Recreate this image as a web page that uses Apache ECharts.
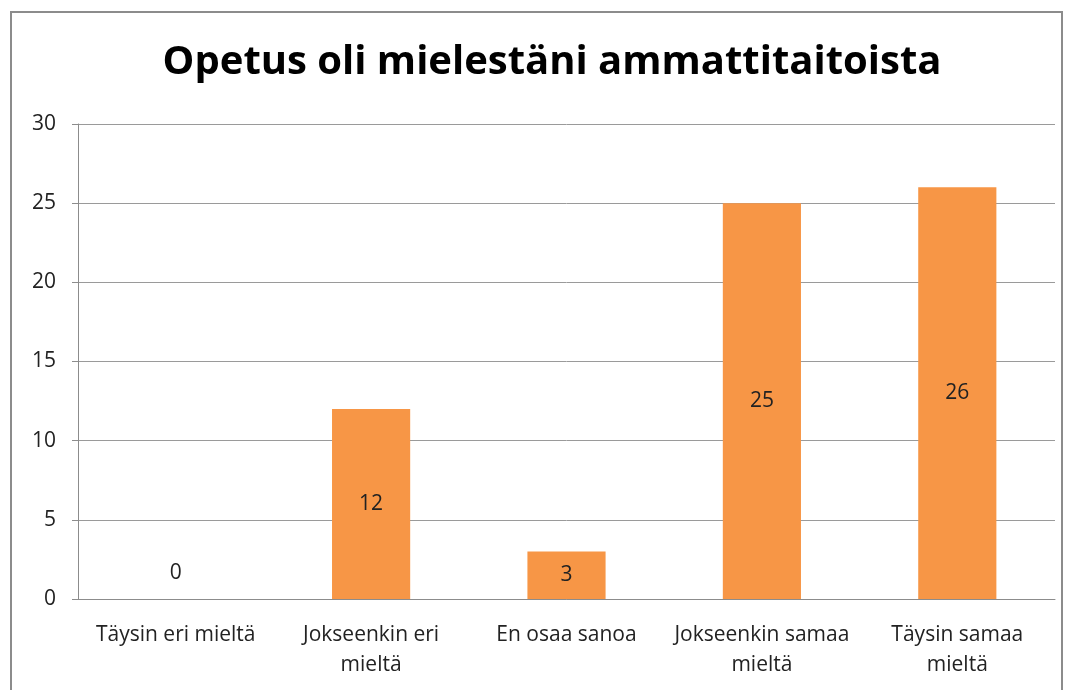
<!DOCTYPE html>
<html>
<head>
<meta charset="utf-8">
<script src="https://cdn.jsdelivr.net/npm/echarts@6/dist/echarts.min.js"></script>
<style>
  html, body { margin: 0; padding: 0; background: #fff; }
  #frame {
    position: absolute; left: 10px; top: 11px; width: 1053px; height: 700px;
    border: 2px solid #8c8c8c; box-sizing: border-box;
  }
  #chart { position: absolute; left: 0; top: 0; width: 1070px; height: 690px; }
</style>
</head>
<body>
<div id="frame"></div>
<div id="chart"></div>
<script>
// arvot kuvasta
var categories = ['Täysin eri mieltä', 'Jokseenkin eri\nmieltä', 'En osaa sanoa', 'Jokseenkin samaa\nmieltä', 'Täysin samaa\nmieltä'];
var values = [0, 12, 3, 25, 26];
var yTicks = [0, 5, 10, 15, 20, 25, 30];

var chart = echarts.init(document.getElementById('chart'));

var option = {
  animation: false,
  title: {
    text: 'Opetus oli mielestäni ammattitaitoista',
    left: 547,
    textAlign: 'center',
    top: 38,
    textStyle: { fontFamily: 'Open Sans', fontWeight: 'bold', fontSize: 40, color: '#000' }
  },
  grid: { left: 78, right: 15, top: 124, bottom: 91 },
  xAxis: {
    type: 'category',
    data: categories,
    axisLine: { lineStyle: { color: '#8c8c8c', width: 1 } },
    axisTick: { show: false },
    axisLabel: { fontFamily: 'Open Sans', fontSize: 21, color: '#222', margin: 21, lineHeight: 30, interval: 0 }
  },
  yAxis: {
    type: 'value',
    min: yTicks[0],
    max: yTicks[yTicks.length - 1],
    interval: 5,
    axisLine: { show: true, lineStyle: { color: '#8c8c8c', width: 1 } },
    axisTick: { show: true, length: 6, lineStyle: { color: '#8c8c8c' } },
    splitLine: { lineStyle: { color: '#9a9a9a', width: 1 } },
    axisLabel: { fontFamily: 'Open Sans', fontSize: 21, color: '#222', margin: 22 }
  },
  series: [{
    type: 'bar',
    barWidth: '40%',
    itemStyle: { color: '#F79646' },
    data: values.map(function (v) {
      return {
        value: v,
        label: v === 0 ? { position: 'top', distance: 15 } : { position: 'inside' }
      };
    }),
    label: { show: true, fontFamily: 'Open Sans', fontSize: 21, color: '#222' }
  }]
};

chart.setOption(option);
</script>
</body>
</html>
